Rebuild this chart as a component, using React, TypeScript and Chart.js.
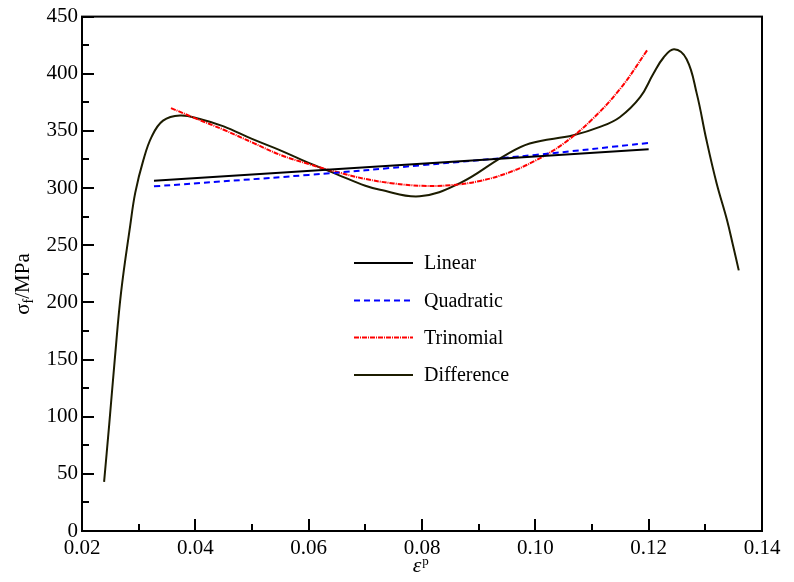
import React, { useEffect, useRef } from "react";
import { Chart, registerables } from "chart.js";

Chart.register(...registerables);

// ---- data ----
const linearX = [0.0327, 0.12];
const linearY = [306.5, 334];

const quadraticX = [0.0327, 0.06, 0.08, 0.1, 0.12];
const quadraticY = [301.5, 311.5, 320, 329, 339.5];

const trinomialX = [0.0357, 0.04, 0.045, 0.05, 0.055, 0.06, 0.065, 0.07, 0.075, 0.08, 0.085, 0.09, 0.095, 0.1, 0.105, 0.11, 0.115, 0.1198];
const trinomialY = [370, 361, 351, 340, 329, 321, 314, 308, 304, 302, 302.5, 306, 313, 324, 339, 360, 387, 421];

const differenceX = [
  0.0239, 0.0248, 0.0258, 0.0269, 0.0285, 0.0294, 0.0308, 0.0323, 0.0343, 0.0373, 0.0408, 0.045, 0.05, 0.055, 0.06,
  0.065, 0.07, 0.0726, 0.0796, 0.0867, 0.0943, 0.099, 0.1067, 0.1114, 0.1149, 0.1185, 0.1208, 0.1226, 0.1245, 0.1267,
  0.1285, 0.1302, 0.132, 0.1338, 0.1349, 0.1359,
];
const differenceY = [
  43, 93, 151, 209, 267, 296, 324, 345, 359, 363.5, 360.5, 354, 343, 333, 322, 312, 302, 298.5, 292.8, 304.3, 327.5,
  339, 346.2, 353.5, 362, 379.5, 399.7, 414, 421.4, 412.7, 382.4, 342, 304, 272.5, 249.5, 228,
];

const seriesNames = ["Linear", "Quadratic", "Trinomial", "Difference"];
const xMin = 0.02, xMax = 0.14, xStep = 0.02, xMinorStep = 0.01;
const yMin = 0, yMax = 450, yStep = 50, yMinorStep = 25;

const FONT = "'Liberation Serif', 'DejaVu Serif', serif";

const zip = (xs: number[], ys: number[]) => xs.map((x, i) => ({ x, y: ys[i] }));

const framePlugin = {
  id: "frame",
  afterDraw(chart: any) {
    const { ctx, chartArea: a, scales } = chart;
    const xs = scales.x, ys = scales.y;
    ctx.save();
    ctx.strokeStyle = "#000";
    ctx.lineWidth = 2;
    ctx.strokeRect(a.left, a.top, a.right - a.left, a.bottom - a.top);

    // inward ticks
    ctx.beginPath();
    for (let v = xMin; v <= xMax + 1e-9; v += xMinorStep) {
      const px = Math.round(xs.getPixelForValue(v));
      const major = Math.abs(Math.round(v / xStep) * xStep - v) < 1e-9;
      const len = major ? 12 : 7;
      ctx.moveTo(px, a.bottom);
      ctx.lineTo(px, a.bottom - len);
    }
    for (let v = yMin; v <= yMax + 1e-9; v += yMinorStep) {
      const py = Math.round(ys.getPixelForValue(v));
      const major = v % yStep === 0;
      const len = major ? 12 : 7;
      ctx.moveTo(a.left, py);
      ctx.lineTo(a.left + len, py);
    }
    ctx.stroke();

    // axis titles
    ctx.fillStyle = "#000";
    ctx.textBaseline = "alphabetic";
    ctx.textAlign = "left";
    // y title: σ_f/MPa
    ctx.save();
    ctx.translate(29, 284);
    ctx.rotate(-Math.PI / 2);
    ctx.font = `21px ${FONT}`;
    const w1 = ctx.measureText("σ").width;
    ctx.font = `14px ${FONT}`;
    const w2 = ctx.measureText("f").width;
    ctx.font = `21px ${FONT}`;
    const w3 = ctx.measureText("/MPa").width;
    const x0 = -(w1 + w2 + w3) / 2;
    ctx.fillText("σ", x0, 0);
    ctx.font = `14px ${FONT}`;
    ctx.fillText("f", x0 + w1, 4);
    ctx.font = `21px ${FONT}`;
    ctx.fillText("/MPa", x0 + w1 + w2, 0);
    ctx.restore();

    // x title: ε^p
    ctx.font = `italic 22px ${FONT}`;
    const e1 = ctx.measureText("ε").width;
    ctx.fillText("ε", 420 - e1 / 2 - 3, 572);
    ctx.font = `13px ${FONT}`;
    ctx.fillText("p", 420 + e1 / 2 - 2, 565);

    // legend
    const rows = [263, 300.5, 337.5, 375];
    chart.data.datasets.forEach((ds: any, i: number) => {
      const y = rows[i];
      ctx.save();
      ctx.strokeStyle = ds.borderColor;
      ctx.lineWidth = ds.borderWidth;
      ctx.setLineDash(ds.borderDash || []);
      ctx.beginPath();
      ctx.moveTo(354, y);
      ctx.lineTo(413, y);
      ctx.stroke();
      ctx.restore();
      ctx.font = `20px ${FONT}`;
      ctx.fillStyle = "#000";
      ctx.textBaseline = "middle";
      ctx.fillText(ds.label, 424, y + 1);
    });
    ctx.restore();
  },
};

export default function App() {
  const ref = useRef<HTMLCanvasElement | null>(null);
  useEffect(() => {
    document.body.style.margin = "0";
    const canvas = ref.current!;
    const chart = new Chart(canvas, {
      type: "scatter",
      data: {
        datasets: [
          {
            label: seriesNames[0],
            data: zip(linearX, linearY),
            showLine: true,
            borderColor: "#000000",
            borderWidth: 2,
            pointRadius: 0,
          },
          {
            label: seriesNames[1],
            data: zip(quadraticX, quadraticY),
            showLine: true,
            borderColor: "#0000ff",
            borderWidth: 2,
            borderDash: [6, 4],
            pointRadius: 0,
            tension: 0.4,
          },
          {
            label: seriesNames[2],
            data: zip(trinomialX, trinomialY),
            showLine: true,
            borderColor: "#ff0000",
            borderWidth: 2,
            borderDash: [5, 1, 1, 1],
            pointRadius: 0,
            tension: 0.4,
          },
          {
            label: seriesNames[3],
            data: zip(differenceX, differenceY),
            showLine: true,
            borderColor: "#1c1c00",
            borderWidth: 2,
            pointRadius: 0,
            tension: 0.4,
          },
        ],
      },
      options: {
        responsive: false,
        animation: false,
        layout: { padding: { top: 12, right: 32, left: 0, bottom: 0 } },
        plugins: { legend: { display: false }, tooltip: { enabled: false } },
        scales: {
          x: {
            type: "linear",
            min: xMin,
            max: xMax,
            grid: { display: false, drawTicks: false },
            border: { display: false },
            ticks: {
              stepSize: xStep,
              color: "#000",
              font: { family: FONT, size: 21 },
              padding: 5,
              maxRotation: 0,
              callback: (v: any) => Number(v).toFixed(2),
            },
            afterFit: (s: any) => {
              s.height = 51;
            },
          },
          y: {
            type: "linear",
            min: yMin,
            max: yMax,
            grid: { display: false, drawTicks: false },
            border: { display: false },
            ticks: {
              stepSize: yStep,
              color: "#000",
              font: { family: FONT, size: 21 },
              padding: 4,
            },
            afterFit: (s: any) => {
              s.width = 82;
            },
          },
        },
      },
      plugins: [framePlugin],
    });
    return () => chart.destroy();
  }, []);
  return <canvas ref={ref} width={794} height={582} style={{ display: "block" }} />;
}
